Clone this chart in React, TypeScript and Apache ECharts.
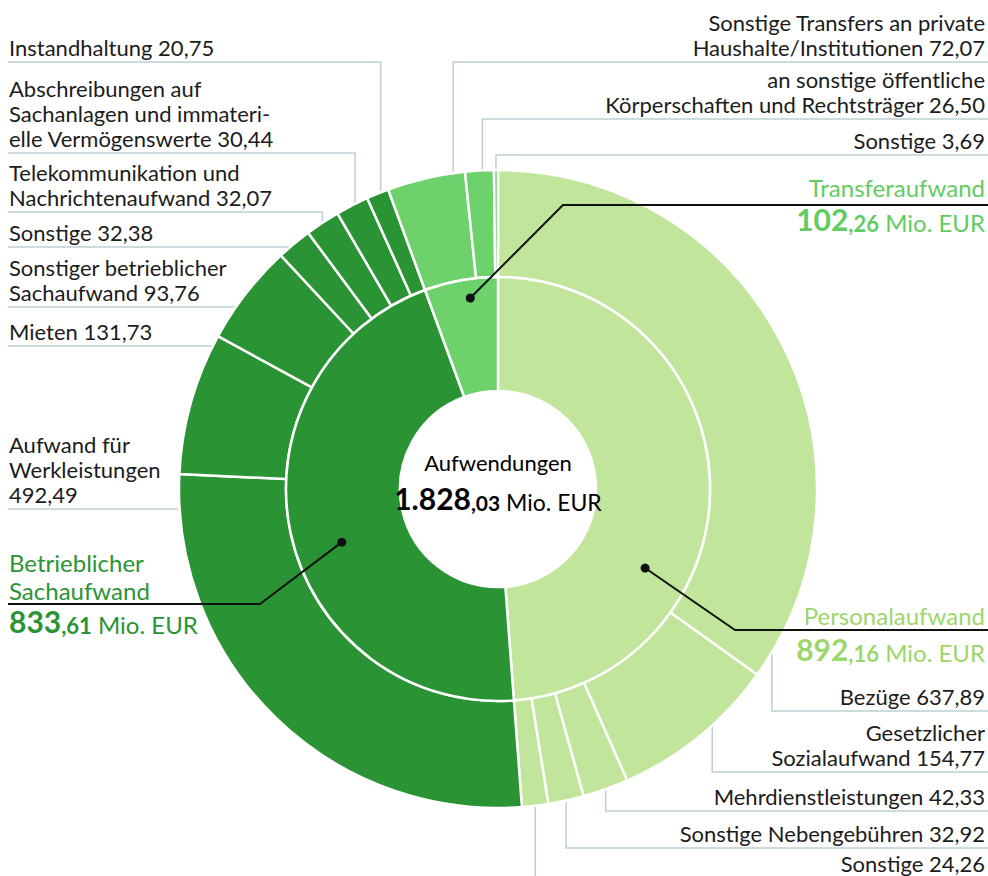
import React, { useEffect, useRef } from 'react';
import * as echarts from 'echarts';

// ---------- data ----------
const groupNames = ['Personalaufwand', 'Betrieblicher\nSachaufwand', 'Transferaufwand'];
const groupValues = [892.16, 833.61, 102.26];

const personalNames = ['Bezüge', 'Gesetzlicher\nSozialaufwand', 'Mehrdienstleistungen', 'Sonstige Nebengebühren', 'Sonstige'];
const personalValues = [637.89, 154.77, 42.33, 32.92, 24.26];

const sachNames = [
  'Aufwand für\nWerkleistungen\n',
  'Mieten',
  'Sonstiger betrieblicher\nSachaufwand',
  'Sonstige',
  'Telekommunikation und\nNachrichtenaufwand',
  'Abschreibungen auf\nSachanlagen und immateri-\nelle Vermögenswerte',
  'Instandhaltung',
];
const sachValues = [492.49, 131.73, 93.76, 32.38, 32.07, 30.44, 20.75];

const transferNames = ['Sonstige Transfers an private\nHaushalte/Institutionen', 'an sonstige öffentliche\nKörperschaften und Rechtsträger', 'Sonstige'];
const transferValues = [72.07, 26.5, 3.69];

const centerTitle = 'Aufwendungen';
const centerValue = 1828.03;
const unit = 'Mio. EUR';

// ---------- styles / layout ----------
const FONT = 'Lato';
const CX = 498;
const CY = 489;
const R_HOLE = 98;
const R_MID = 212;
const R_OUT = 319;
const TEXT_LEFT = 9;
const TEXT_RIGHT = 985;
const LINE_LEFT = 8;
const LINE_RIGHT = 988;

const groupColors = ['#c1e59b', '#2a9434', '#6dd16c'];
const groupTextColors = ['#9dd66b', '#2a9434', '#62cc62'];
const subLineColor = '#bccfd3';
const textColor = '#1c1c1c';

// label placement for group (inner ring) labels
const groupLayout = [
  { side: 'right', uy: 630, ex: 735, f: 0.673, r: 167, tlh: 30, vlh: 34 },
  { side: 'left', uy: 604, ex: 260, f: 0.46, r: 165, tlh: 28, vlh: 32 },
  { side: 'right', uy: 205, ex: 563, f: 0.59, r: 193, tlh: 36, vlh: 29 },
];

// label placement for outer ring labels (same order as outer data)
const outerLayout = [
  { side: 'right', mode: 'v', uy: 711, f: 0.962 },
  { side: 'right', mode: 'v', uy: 772, f: 0.4 },
  { side: 'right', mode: 'v', uy: 811, f: 0.5 },
  { side: 'right', mode: 'v', uy: 848, f: 0.5 },
  { side: 'right', mode: 'v', uy: 878, f: 0.5 },
  { side: 'left', mode: 'h', uy: 509, f: 0.5 },
  { side: 'left', mode: 'h', uy: 346, f: 0.5 },
  { side: 'left', mode: 'h', uy: 307, f: 0.5 },
  { side: 'left', mode: 'h', uy: 247, f: 0.5 },
  { side: 'left', mode: 'v', uy: 212, f: 0.5 },
  { side: 'left', mode: 'v', uy: 153, f: 0.6 },
  { side: 'left', mode: 'v', uy: 62, f: 0.65 },
  { side: 'right', mode: 'v', uy: 62, f: 0.85 },
  { side: 'right', mode: 'v', uy: 119, f: 0.6 },
  { side: 'right', mode: 'v', uy: 155, f: 0.5 },
];

// ---------- helpers ----------
function de(v: number): string {
  const [i, d] = v.toFixed(2).split('.');
  return i.replace(/\B(?=(\d{3})+(?!\d))/g, '.') + ',' + d;
}
function splitDe(v: number): [string, string] {
  const s = de(v).split(',');
  return [s[0], ',' + s[1]];
}
function angleAt(values: number[], idx: number, f: number): number {
  const total = values.reduce((a, b) => a + b, 0);
  let start = 0;
  for (let i = 0; i < idx; i++) start += values[i];
  return ((start + f * values[idx]) / total) * 360;
}
function polar(r: number, deg: number): number[] {
  const rad = (deg * Math.PI) / 180;
  return [CX + r * Math.sin(rad), CY - r * Math.cos(rad)];
}

const outerNames = [...personalNames, ...sachNames, ...transferNames];
const outerValues = [...personalValues, ...sachValues, ...transferValues];
const outerColors = [
  ...personalValues.map(() => groupColors[0]),
  ...sachValues.map(() => groupColors[1]),
  ...transferValues.map(() => groupColors[2]),
];

function valueRich(color: string, tlh: number, vlh: number) {
  return {
    t: { fontFamily: FONT, fontSize: 24, color, lineHeight: tlh },
    b: { fontFamily: FONT, fontSize: 30, fontWeight: 'bold', color, lineHeight: vlh, verticalAlign: 'bottom' },
    s: { fontFamily: FONT, fontSize: 22, fontWeight: 'bold', color, lineHeight: vlh - 6, verticalAlign: 'bottom' },
    u: { fontFamily: FONT, fontSize: 24, color, lineHeight: vlh - 4, verticalAlign: 'bottom' },
  };
}

export default function App() {
  const ref = useRef<HTMLDivElement>(null);

  useEffect(() => {
    if (!ref.current) return;
    const chart = echarts.init(ref.current, null, { renderer: 'svg' });

    const innerData = groupValues.map((v, i) => ({
      value: v,
      name: groupNames[i],
      itemStyle: { color: groupColors[i] },
      label: { rich: valueRich(groupTextColors[i], groupLayout[i].tlh, groupLayout[i].vlh) },
    }));
    const outerData = outerValues.map((v, i) => ({
      value: v,
      name: outerNames[i],
      itemStyle: { color: outerColors[i] },
    }));

    const leaders: any[] = [];
    groupLayout.forEach((L, i) => {
      const p = polar(L.r, angleAt(groupValues, i, L.f));
      const end = L.side === 'right' ? LINE_RIGHT : LINE_LEFT;
      leaders.push({
        type: 'polyline',
        z: 90,
        silent: true,
        shape: { points: [p, [L.ex, L.uy], [end, L.uy]] },
        style: { stroke: '#111111', lineWidth: 2, fill: null },
      });
      leaders.push({
        type: 'circle',
        z: 100,
        silent: true,
        shape: { cx: p[0], cy: p[1], r: 4.5 },
        style: { fill: '#111111' },
      });
    });

    const [ci, cd] = splitDe(centerValue);

    chart.setOption({
      animation: false,
      backgroundColor: '#ffffff',
      series: [
        {
          type: 'pie',
          z: 2,
          silent: true,
          center: [CX, CY],
          radius: [R_MID, R_OUT],
          startAngle: 90,
          clockwise: true,
          avoidLabelOverlap: false,
          itemStyle: { borderColor: '#ffffff', borderWidth: 2.5 },
          label: {
            show: true,
            position: 'outside',
            overflow: 'none',
            fontFamily: FONT,
            fontSize: 22,
            lineHeight: 25,
            color: textColor,
            formatter: (p: any) => {
              const n = outerNames[p.dataIndex];
              return n + (n.endsWith('\n') ? '' : ' ') + de(outerValues[p.dataIndex]);
            },
          },
          labelLine: { show: true, length: 10, length2: 10, lineStyle: { color: subLineColor, width: 1.5 } },
          labelLayout: (p: any) => {
            const i = p.dataIndex;
            const L = outerLayout[i];
            const right = L.side === 'right';
            const end = right ? LINE_RIGHT : LINE_LEFT;
            let pts: number[][];
            if (L.mode === 'v') {
              const a = polar(R_OUT, angleAt(outerValues, i, L.f));
              pts = [a, [a[0], L.uy], [end, L.uy]];
            } else {
              const dy = L.uy - CY;
              const ex = CX + (right ? 1 : -1) * Math.sqrt(R_OUT * R_OUT - dy * dy);
              pts = [[ex, L.uy], [ex, L.uy], [end, L.uy]];
            }
            return {
              x: right ? TEXT_RIGHT : TEXT_LEFT,
              y: L.uy - 2,
              align: right ? 'right' : 'left',
              verticalAlign: 'bottom',
              labelLinePoints: pts,
            };
          },
          data: outerData,
        },
        {
          type: 'pie',
          z: 3,
          silent: true,
          center: [CX, CY],
          radius: [R_HOLE, R_MID],
          startAngle: 90,
          clockwise: true,
          avoidLabelOverlap: false,
          itemStyle: { borderColor: '#ffffff', borderWidth: 2.5 },
          label: {
            show: true,
            position: 'outside',
            overflow: 'none',
            fontFamily: FONT,
            formatter: (p: any) => {
              const i = p.dataIndex;
              const [a, b] = splitDe(groupValues[i]);
              const title = groupNames[i].split('\n').map((l) => `{t|${l}}`).join('\n');
              return `${title}\n{b|${a}}{s|${b}}{u| ${unit}}`;
            },
          },
          labelLine: { show: false },
          labelLayout: (p: any) => {
            const i = p.dataIndex;
            const L = groupLayout[i];
            const right = L.side === 'right';
            const nTitle = groupNames[i].split('\n').length;
            return {
              x: right ? TEXT_RIGHT : TEXT_LEFT,
              y: L.uy - nTitle * L.tlh,
              align: right ? 'right' : 'left',
              verticalAlign: 'top',
            };
          },
          data: innerData,
        },
      ],
      graphic: [
        ...leaders,
        {
          type: 'text',
          z: 100,
          silent: true,
          x: CX,
          y: CY - 44,
          style: {
            text: `{t|${centerTitle}}\n{b|${ci}}{s|${cd}}{u| ${unit}}`,
            align: 'center',
            verticalAlign: 'top',
            rich: {
              t: { fontFamily: FONT, fontSize: 22, color: '#111', lineHeight: 34, align: 'center' },
              b: { fontFamily: FONT, fontSize: 30, fontWeight: 'bold', color: '#111', lineHeight: 34, verticalAlign: 'bottom' },
              s: { fontFamily: FONT, fontSize: 21, fontWeight: 'bold', color: '#111', lineHeight: 28, verticalAlign: 'bottom' },
              u: { fontFamily: FONT, fontSize: 23, color: '#111', lineHeight: 30, verticalAlign: 'bottom' },
            },
          },
        },
      ],
    });

    return () => chart.dispose();
  }, []);

  return (
    <div
      ref={ref}
      style={{ position: 'fixed', left: 0, top: 0, width: 988, height: 876, background: '#fff' }}
    />
  );
}
